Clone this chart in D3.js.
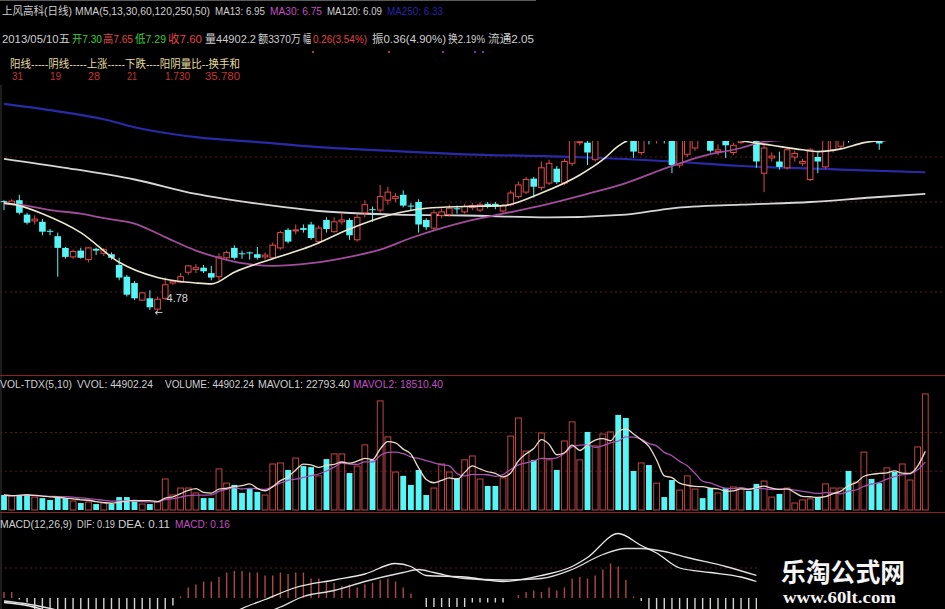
<!DOCTYPE html>
<html><head><meta charset="utf-8">
<script src="https://cdn.jsdelivr.net/npm/d3@7"></script>
<style>html,body{margin:0;padding:0;background:#000;overflow:hidden}</style>
</head><body>
<svg id="c" width="945" height="609"></svg>
<script>
// ---------------- DATA ----------------
const dayIndex = d3.range(121);
const opens = [6.01,5.98,6.02,5.86,5.79,5.78,5.68,5.62,5.49,5.39,
5.46,5.36,5.48,5.43,5.42,5.30,5.17,5.10,4.91,4.93,
4.81,4.93,5.10,5.11,5.22,5.25,5.27,5.21,5.17,5.38,
5.49,5.43,5.44,5.42,5.39,5.38,5.49,5.69,5.68,5.71,
5.75,5.56,5.80,5.67,5.78,5.80,5.58,5.88,5.92,5.91,
6.02,6.04,6.08,5.96,6.00,5.80,5.71,5.85,5.86,5.93,
5.89,5.94,5.91,5.98,5.98,5.90,5.97,6.06,6.11,6.26,
6.16,6.21,6.37,6.21,6.43,6.66,6.66,6.47,6.72,6.80,
6.92,6.84,6.73,6.55,6.78,6.72,6.80,6.74,6.41,6.53,
6.60,6.88,6.75,6.56,6.70,6.55,6.66,6.82,6.74,6.32,
6.49,6.45,6.38,6.50,6.43,6.25,6.50,6.39,6.58,6.62,
6.85,6.76,6.84,6.95,6.85,6.70,6.90,6.85,7.00,7.12,
7.30];
const closes = [6.00,6.01,5.88,5.77,5.81,5.67,5.67,5.49,5.39,5.45,
5.38,5.49,5.46,5.47,5.38,5.16,4.97,4.93,4.99,4.83,
4.92,5.08,5.12,5.17,5.29,5.27,5.23,5.16,5.39,5.44,
5.38,5.42,5.43,5.38,5.41,5.52,5.66,5.56,5.69,5.69,
5.60,5.71,5.70,5.78,5.80,5.63,5.83,5.97,5.91,6.06,
6.11,6.06,5.96,5.95,5.75,5.72,5.88,5.89,5.93,5.92,
5.95,5.96,5.97,5.95,5.95,5.96,6.10,6.19,6.25,6.17,
6.38,6.43,6.22,6.45,6.70,6.67,6.55,6.72,6.80,6.90,
6.82,6.74,6.56,6.72,6.72,6.80,6.74,6.41,6.72,6.75,
6.82,6.78,6.57,6.58,6.63,6.63,6.76,6.74,6.45,6.60,
6.51,6.39,6.58,6.54,6.45,6.58,6.45,6.70,6.75,6.78,
6.76,6.84,6.92,6.86,6.65,6.82,6.80,7.00,7.12,7.34,
7.60];
const highs = [6.02,6.03,6.08,5.88,5.85,5.81,5.70,5.66,5.50,5.47,
5.49,5.50,5.49,5.49,5.44,5.38,5.19,5.12,5.00,5.02,
4.95,5.16,5.14,5.21,5.30,5.31,5.30,5.29,5.43,5.46,
5.52,5.46,5.45,5.50,5.44,5.55,5.68,5.71,5.75,5.75,
5.78,5.74,5.83,5.83,5.88,5.82,5.87,6.02,5.95,6.19,
6.17,6.10,6.13,5.99,6.03,5.82,5.91,5.93,5.97,5.96,
5.98,5.99,6.00,6.00,6.00,5.98,6.13,6.23,6.28,6.28,
6.45,6.47,6.40,6.48,6.75,6.72,6.70,6.78,6.86,6.95,
6.96,6.88,6.78,6.76,6.82,6.84,6.84,6.80,6.78,6.80,
6.86,6.92,6.80,6.64,6.75,6.66,6.80,6.86,6.80,6.64,
6.55,6.56,6.60,6.57,6.48,6.60,6.55,6.75,6.80,6.82,
6.88,6.88,6.96,6.98,6.88,6.86,6.95,7.05,7.18,7.40,
7.65];
const lows = [5.91,5.97,5.86,5.75,5.75,5.63,5.63,5.17,5.37,5.37,
5.37,5.33,5.41,5.40,5.36,5.13,4.95,4.91,4.90,4.80,
4.78,4.91,5.08,5.10,5.19,5.21,5.21,5.13,5.13,5.35,
5.36,5.37,5.36,5.36,5.36,5.36,5.47,5.54,5.64,5.66,
5.58,5.53,5.66,5.66,5.75,5.58,5.56,5.83,5.78,5.88,
5.97,6.00,5.94,5.90,5.66,5.69,5.69,5.82,5.84,5.87,
5.87,5.91,5.89,5.93,5.92,5.88,5.95,6.04,6.09,6.05,
6.13,6.19,6.20,6.19,6.40,6.63,6.41,6.45,6.69,6.76,
6.75,6.66,6.49,6.52,6.64,6.65,6.65,6.32,6.38,6.50,
6.57,6.72,6.55,6.52,6.49,6.52,6.64,6.70,6.38,6.11,
6.45,6.36,6.36,6.45,6.40,6.23,6.32,6.37,6.55,6.60,
6.66,6.72,6.80,6.80,6.58,6.68,6.76,6.82,6.96,7.08,
7.29];
const volumes = [5800,5400,5800,6200,5000,4600,3900,5000,4600,3500,
2700,3100,2300,2700,2300,5000,5000,3500,2300,2300,
3100,12000,5800,8500,8500,6600,4600,4600,15900,10400,
9700,6600,8100,7000,5800,17800,18200,15500,20100,17000,
16600,13200,19700,21700,21700,14300,17000,25200,19400,42200,
28300,14700,13200,9700,15500,5800,8500,17800,14700,12400,
19400,20900,12000,9300,9300,12400,28600,35600,22800,19400,
29800,19400,15500,26700,34100,19400,30200,24800,29400,30200,
36800,35600,15100,18200,17400,10400,5000,11600,7700,13200,
8100,4600,8500,6600,8500,8900,8500,7400,10100,11200,
5000,6200,8500,2700,3900,4300,5000,10100,8500,8500,
15100,10800,22400,12000,10400,16300,14700,17800,11600,24400,
44902.24];

// moving-average lines (day index, price)
const ma13Idx = [0,2,5,10,15,20,25,27,30,35,40,45,50,55,60,65,70,75,78,80,83,86,90,96,100,104,106,109,112,116,118,120];
const ma13Val = [5.99,5.96,5.87,5.66,5.33,5.16,5.10,5.09,5.22,5.37,5.51,5.70,5.85,5.93,5.95,5.96,6.10,6.30,6.47,6.62,6.75,6.80,6.78,6.68,6.63,6.58,6.56,6.59,6.66,6.70,6.78,6.95];
const ma30Idx = [0,2,6,10,13,17,21,25,28,31,35,40,45,49,53,57,60,65,70,76,81,86,91,96,99,105,112,120];
const ma30Val = [5.98,5.97,5.91,5.87,5.82,5.76,5.61,5.46,5.38,5.32,5.29,5.32,5.39,5.47,5.60,5.71,5.78,5.87,5.96,6.09,6.21,6.37,6.51,6.60,6.67,6.70,6.72,6.75];
const ma120Idx = [0,8,17,25,34,41,51,60,71,81,87,96,105,113,120];
const ma120Val = [6.48,6.38,6.25,6.09,5.97,5.90,5.86,5.85,5.83,5.86,5.93,5.97,6.00,6.05,6.09];
const ma250Idx = [0,6,13,17,25,34,41,50,60,74,87,96,109,120];
const ma250Val = [7.09,7.02,6.92,6.83,6.72,6.66,6.61,6.57,6.53,6.50,6.45,6.40,6.36,6.33];

// MACD (visible part, up to the watermark)
const difIdx = [0,3,6,10,15,20,25,29,31,34,38,43,47,51,53,55,60,65,70,74,76,80,83,85,88,92,96,98];
const difVal = [-0.03,-0.05,-0.09,-0.15,-0.22,-0.25,-0.20,-0.12,-0.07,-0.01,0.07,0.12,0.16,0.23,0.21,0.15,0.14,0.11,0.15,0.21,0.27,0.43,0.35,0.30,0.20,0.17,0.14,0.11];
const deaIdx = [0,3,6,10,15,20,25,30,33,36,39,43,47,52,54,56,60,65,70,74,78,81,83,86,89,94,98];
const deaVal = [-0.02,-0.04,-0.07,-0.12,-0.18,-0.22,-0.21,-0.16,-0.12,-0.06,0.01,0.05,0.11,0.17,0.19,0.17,0.13,0.12,0.13,0.19,0.29,0.33,0.33,0.31,0.27,0.21,0.15];
const macdHist = [0.04,0.04,-0.01,-0.03,-0.09,-0.10,-0.11,-0.13,-0.14,-0.15,
-0.14,-0.14,-0.13,-0.13,-0.12,-0.12,-0.12,-0.11,-0.10,-0.10,
-0.09,-0.08,-0.05,0.01,0.07,0.09,0.11,0.11,0.14,0.17,
0.18,0.18,0.17,0.17,0.15,0.15,0.17,0.16,0.17,0.17,
0.13,0.13,0.11,0.10,0.08,0.09,0.07,0.09,0.10,0.12,
0.13,0.11,0.07,0.03,0.00,-0.06,-0.06,-0.06,-0.06,-0.06,
-0.06,-0.03,-0.03,-0.03,-0.03,-0.03,0.00,0.02,0.04,0.05,
0.04,0.07,0.05,0.07,0.13,0.14,0.13,0.15,0.19,0.23,
0.21,0.12,0.01,-0.02,-0.08,-0.09,-0.10,-0.11,-0.12,-0.12,
-0.12,-0.11,-0.11,-0.10,-0.10,-0.09,-0.09,-0.08,-0.08];

const priceGrid = [5.0,5.5,6.0,6.5];
const volGrid = [15000,30000];
const macdGrid = [0.2];
const lowMark = {idx:20, label:"4.78"};

// ---------------- DRAW ----------------
const svg = d3.select("#c");
svg.append("rect").attr("width",945).attr("height",609).attr("fill","#000");
const defs = svg.append("defs");
defs.append("clipPath").attr("id","pclip").append("rect").attr("x",0).attr("y",141).attr("width",945).attr("height",233);
defs.append("clipPath").attr("id","pclip2").append("rect").attr("x",0).attr("y",85).attr("width",945).attr("height",289);
defs.append("clipPath").attr("id","vclip").append("rect").attr("x",0).attr("y",376).attr("width",945).attr("height",136);
defs.append("clipPath").attr("id","mclip").append("rect").attr("x",0).attr("y",514).attr("width",945).attr("height",95);

const x = d3.scaleLinear().domain([0,120]).range([4,925.3]);
const yP = d3.scaleLinear().domain([4.5,7.0]).range([337,112]);
const yV = d3.scaleLinear().domain([0,45000]).range([510,393.7]);
const yM = d3.scaleLinear().domain([-0.2,0.4]).range([628,538]);

const RED="#e24a4a", CYAN="#56f6f6", GREY="#cfcfcf", MAG="#c24fc4";

// separators / borders
svg.append("line").attr("x1",0).attr("x2",536).attr("y1",0.5).attr("y2",0.5).attr("stroke","#5a5a5a");
svg.append("line").attr("x1",1).attr("x2",1).attr("y1",85).attr("y2",609).attr("stroke","#3a3a3a");
[375.5,512.5].forEach(y=>svg.append("line").attr("x1",0).attr("x2",945).attr("y1",y).attr("y2",y).attr("stroke","#8a2424").attr("stroke-width",1.2));

// grids
const gridG = svg.append("g").attr("stroke","#5a1a1a").attr("stroke-dasharray","2,3").attr("stroke-width",1);
priceGrid.forEach(v=>gridG.append("line").attr("x1",0).attr("x2",945).attr("y1",yP(v)).attr("y2",yP(v)));
volGrid.forEach(v=>gridG.append("line").attr("x1",0).attr("x2",945).attr("y1",yV(v)).attr("y2",yV(v)));
macdGrid.forEach(v=>gridG.append("line").attr("x1",0).attr("x2",945).attr("y1",yM(v)).attr("y2",yM(v)));

// long MAs (not clipped at 141)
const lineP = (idx,val)=>d3.line().x((d,i)=>x(idx[i])).y(d=>yP(d)).curve(d3.curveMonotoneX)(val);
const pl2 = svg.append("g").attr("clip-path","url(#pclip2)");
pl2.append("path").attr("d",lineP(ma250Idx,ma250Val)).attr("fill","none").attr("stroke","#2a2aa8").attr("stroke-width",2.2);
pl2.append("path").attr("d",lineP(ma120Idx,ma120Val)).attr("fill","none").attr("stroke","#d6d6d6").attr("stroke-width",1.8);

// candles
const pg = svg.append("g").attr("clip-path","url(#pclip)");
const bw = 5.6;
dayIndex.forEach(i=>{
  const o=opens[i], c=closes[i], h=highs[i], l=lows[i];
  const cx = x(i);
  const up = c>=o;
  const top = yP(Math.max(o,c)), bot = yP(Math.min(o,c));
  const bh = Math.max(1, bot-top);
  if(up){
    pg.append("line").attr("x1",cx).attr("x2",cx).attr("y1",yP(h)).attr("y2",top).attr("stroke",RED).attr("stroke-width",1);
    pg.append("line").attr("x1",cx).attr("x2",cx).attr("y1",top+bh).attr("y2",yP(l)).attr("stroke",RED).attr("stroke-width",1);
    pg.append("rect").attr("x",cx-bw/2).attr("y",top).attr("width",bw).attr("height",bh).attr("fill","#000").attr("stroke",RED).attr("stroke-width",1);
  } else {
    pg.append("line").attr("x1",cx).attr("x2",cx).attr("y1",yP(h)).attr("y2",yP(l)).attr("stroke",CYAN).attr("stroke-width",1);
    pg.append("rect").attr("x",cx-bw/2-0.5).attr("y",top).attr("width",bw+1).attr("height",bh).attr("fill",CYAN);
  }
});
pg.append("path").attr("d",lineP(ma30Idx,ma30Val)).attr("fill","none").attr("stroke","#a24c9c").attr("stroke-width",1.8);
pg.append("path").attr("d",lineP(ma13Idx,ma13Val)).attr("fill","none").attr("stroke","#ece8d0").attr("stroke-width",1.6);

// low marker
svg.append("text").attr("x",x(lowMark.idx)+9).attr("y",yP(lows[lowMark.idx])-10).text(lowMark.label)
  .attr("fill","#d8d8d8").attr("font-size",11).attr("font-family","Liberation Sans, Arial, sans-serif");
svg.append("text").attr("x",x(lowMark.idx)-3).attr("y",yP(lows[lowMark.idx])+4).text("←")
  .attr("fill","#d8d8d8").attr("font-size",10).attr("font-family","DejaVu Sans, sans-serif");

// volume
const vg = svg.append("g").attr("clip-path","url(#vclip)");
const vbw = 5.8;
dayIndex.forEach(i=>{
  const up = closes[i]>=opens[i];
  const cx = x(i), yt = yV(volumes[i]);
  if(up) vg.append("rect").attr("x",cx-vbw/2).attr("y",yt).attr("width",vbw).attr("height",yV(0)-yt).attr("fill","none").attr("stroke","#c04444").attr("stroke-width",1);
  else vg.append("rect").attr("x",cx-vbw/2).attr("y",yt).attr("width",vbw).attr("height",yV(0)-yt).attr("fill",CYAN);
});
function mavg(arr,n){ return arr.map((v,i)=>{const s=arr.slice(Math.max(0,i-n+1),i+1); return d3.mean(s);}); }
const mavol1 = mavg(volumes,5), mavol2 = mavg(volumes,10);
const lineV = d3.line().x((d,i)=>x(i)).y(d=>yV(d)).curve(d3.curveMonotoneX);
vg.append("path").attr("d",lineV(mavol2)).attr("fill","none").attr("stroke","#a852b0").attr("stroke-width",1.3);
vg.append("path").attr("d",lineV(mavol1)).attr("fill","none").attr("stroke","#eadcc8").attr("stroke-width",1.3);

// MACD
const mg = svg.append("g").attr("clip-path","url(#mclip)");
macdHist.forEach((v,i)=>{
  mg.append("line").attr("x1",x(i)).attr("x2",x(i)).attr("y1",yM(0)).attr("y2",yM(v))
    .attr("stroke", v>=0 ? "#b04848" : "#d4d4d4").attr("stroke-width",1.4);
});
const lineM = (idx,val)=>d3.line().x((d,i)=>x(idx[i])).y(d=>yM(d)).curve(d3.curveMonotoneX)(val);
mg.append("path").attr("d",lineM(deaIdx,deaVal)).attr("fill","none").attr("stroke","#dcdcdc").attr("stroke-width",1.3);
mg.append("path").attr("d",lineM(difIdx,difVal)).attr("fill","none").attr("stroke","#e8e8e8").attr("stroke-width",1.3);

// watermark box
svg.append("rect").attr("x",757).attr("y",540).attr("width",188).attr("height",69).attr("fill","#000");
svg.append("text").attr("x",781).attr("y",582).text("乐淘公式网").attr("fill","#f4f4f4")
  .attr("font-size",26).attr("font-weight","bold").attr("font-family","Noto Sans CJK SC, sans-serif")
  .attr("textLength",124).attr("lengthAdjust","spacingAndGlyphs");
svg.append("text").attr("x",783).attr("y",603).text("www.60lt.com").attr("fill","#f4f4f4")
  .attr("font-size",16).attr("font-weight","bold").attr("font-family","Liberation Serif, DejaVu Serif, serif")
  .attr("textLength",113).attr("lengthAdjust","spacingAndGlyphs");

// texts
function seg(list, y, size){
  list.forEach(s=>{
    svg.append("text").attr("x",s[1]).attr("y",y).text(s[0]).attr("fill",s[3]||GREY)
      .attr("font-size",size||11).attr("font-family","Liberation Sans, Noto Sans CJK SC, sans-serif")
      .attr("textLength",s[2]).attr("lengthAdjust","spacingAndGlyphs");
  });
}
const GRN="#3ccc3c", REDT="#e04646", YEL="#e6dca0", DRED="#c83434", BLUE="#2626a6";
seg([["上风高科(日线)",2,70],["MMA(5,13,30,60,120,250,50)",75,135],["MA13: 6.95",215,50],
     ["MA30: 6.75",270,52,MAG],["MA120: 6.09",327,55],["MA250: 6.33",387,56,BLUE]],15);
seg([["2013/05/10五",2,68],["开7.30",72,30,GRN],["高7.65",103,30,REDT],["低7.29",135,31,GRN],
     ["收7.60",168,34,REDT],["量44902.2",205,51],["额3370万",258,43],["幅",303,8],
     ["0.26(3.54%)",313,54,REDT],["振0.36(4.90%)",372,74],["换2.19%",448,37],["流通2.05",488,46]],43);
seg([["阳线-----阴线-----上涨-----下跌----阳阴量比--换手和",10,230,YEL]],68);
seg([["31",12,11,DRED],["19",50,11,DRED],["28",88,12,DRED],["21",127,10,DRED],["1.730",165,25,DRED],["35.780",205,35,DRED]],80);
// header markers
[[312,"#b0306a"],[388,"#b0306a"],[442,"#9030a0"],[474,"#8030a0"],[482,"#8030a0"]].forEach(d=>
  svg.append("rect").attr("x",d[0]).attr("y",51).attr("width",2).attr("height",2).attr("fill",d[1]));
seg([["VOL-TDX(5,10)",0,72],["VVOL: 44902.24",77,76],["VOLUME: 44902.24",165,89],
     ["MAVOL1: 22793.40",258,92],["MAVOL2: 18510.40",353,90,MAG]],388);
seg([["MACD(12,26,9)",0,72],["DIF: 0.19",77,38],["DEA: 0.11",118,52],["MACD: 0.16",175,55,MAG]],528);
</script>
</body></html>
